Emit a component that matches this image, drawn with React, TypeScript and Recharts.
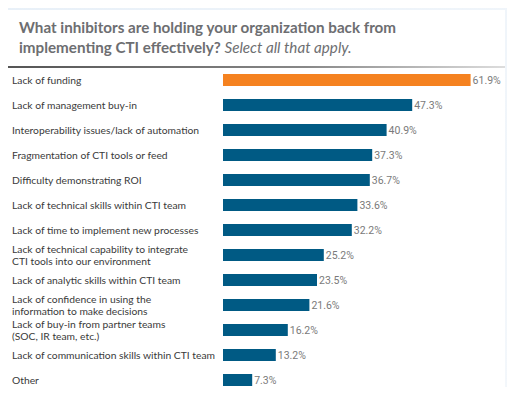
import { BarChart, Bar, XAxis, YAxis, LabelList, Cell } from "recharts";

const categories = [
  "Lack of funding",
  "Lack of management buy-in",
  "Interoperability issues/lack of automation",
  "Fragmentation of CTI tools or feed",
  "Difficulty demonstrating ROI",
  "Lack of technical skills within CTI team",
  "Lack of time to implement new processes",
  "Lack of technical capability to integrate\nCTI tools into our environment",
  "Lack of analytic skills within CTI team",
  "Lack of confidence in using the\ninformation to make decisions",
  "Lack of buy-in from partner teams\n(SOC, IR team, etc.)",
  "Lack of communication skills within CTI team",
  "Other",
];

const values = [61.9, 47.3, 40.9, 37.3, 36.7, 33.6, 32.2, 25.2, 23.5, 21.6, 16.2, 13.2, 7.3];

const data = categories.map((name, i) => ({ name, value: values[i] }));

const ORANGE = "#f58220";
const BLUE = "#005a84";
const ROW = 25;

function RowTick(props: any) {
  const { y, payload } = props;
  const lines = String(payload.value).split("\n");
  const lh = 12;
  const startY = y - ((lines.length - 1) * lh) / 2;
  return (
    <g>
      <line x1={8} x2={505} y1={y + ROW / 2} y2={y + ROW / 2} stroke="url(#sepGrad)" strokeWidth={1.5} />
      <text x={12} y={startY} fill="#3a3a3a" fontSize={10.3} fontFamily="Lato, 'Open Sans', sans-serif" dominantBaseline="central">
        {lines.map((l, i) => (
          <tspan key={i} x={12} y={startY + i * lh}>{l}</tspan>
        ))}
      </text>
    </g>
  );
}

export default function App() {
  return (
    <div style={{ position: "relative", width: 515, height: 395, margin: -8, background: "linear-gradient(120deg, #e8f0f8, #f3f7fb)", overflow: "hidden" }}>
      <div style={{ position: "absolute", left: 8, top: 10, width: 497, height: 382, background: "#fff" }} />
      <div style={{ position: "absolute", left: 19, top: 17, fontFamily: "Lato, 'Open Sans', sans-serif", fontSize: 15.2, lineHeight: "20px", fontWeight: 700, color: "#6d6e71" }}>
        What inhibitors are holding your organization back from<br />
        implementing CTI effectively? <span style={{ fontStyle: "italic", fontWeight: 400 }}>Select all that apply.</span>
      </div>
      <div style={{ position: "absolute", left: 8, top: 65.5, width: 497, height: 2, background: "linear-gradient(90deg, #555 0%, #888 60%, #ddd 100%)" }} />
      <div style={{ position: "absolute", left: 0, top: 0 }}>
        <BarChart width={515} height={395} data={data} layout="vertical" margin={{ top: 67, right: 12, bottom: 3, left: 12 }} barSize={12}>
          <defs>
            <linearGradient id="sepGrad" x1="0" x2="1" y1="0" y2="0">
              <stop offset="0%" stopColor="#8c8c8c" />
              <stop offset="55%" stopColor="#b5b5b5" />
              <stop offset="100%" stopColor="#f0f0f0" />
            </linearGradient>
          </defs>
          <XAxis type="number" domain={[0, 70]} hide />
          <YAxis type="category" dataKey="name" width={211} axisLine={false} tickLine={false} tick={<RowTick />} interval={0} />
          <Bar dataKey="value" isAnimationActive={false}>
            {data.map((d, i) => (
              <Cell key={d.name} fill={i === 0 ? ORANGE : BLUE} />
            ))}
            <LabelList dataKey="value" position="right" offset={2} formatter={(v: any) => `${v}%`} fill="#7a7a7a" fontSize={10.5} fontFamily="'Liberation Sans Narrow', Roboto, sans-serif" />
          </Bar>
        </BarChart>
      </div>
    </div>
  );
}
